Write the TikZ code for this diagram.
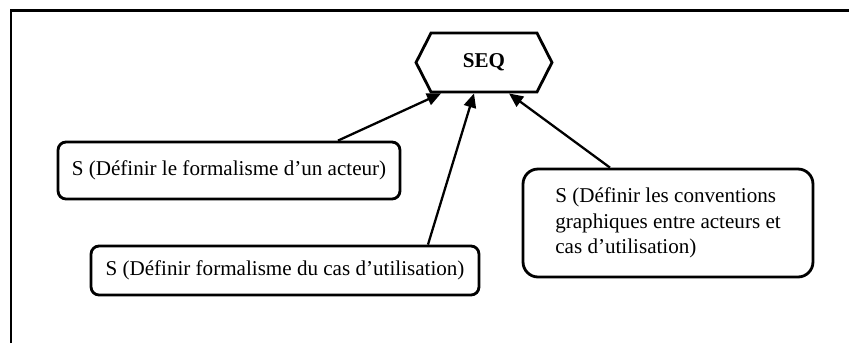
\documentclass[tikz,border=0pt]{standalone}
\usepackage{fontspec}
\setmainfont{Liberation Serif}
\usetikzlibrary{arrows.meta,shapes.symbols}
\begin{document}
\begin{tikzpicture}[x=0.02cm, y=-0.02cm, >={Triangle[length=8pt,width=7pt]},
  tache/.style={draw, line width=1.6pt, rounded corners=0.16cm, inner sep=0pt,
    font=\fontsize{12}{14.5}\selectfont},
  fleche/.style={->, line width=1.3pt}]
  \useasboundingbox (0,0) rectangle (849,343);
  \draw[line width=1.7pt] (11,343) -- (11,10) -- (849,10);
  \node[draw, line width=1.6pt, signal, signal to=east and west,
    signal pointer angle=126, minimum width=2.72cm, minimum height=1.18cm,
    inner sep=0pt, font=\fontsize{12}{14.5}\selectfont\bfseries] (seq) at (484,62.5) {SEQ};
  \node[tache, minimum width=6.84cm, minimum height=1.14cm] (acteur) at (229,170.5)
    {S (Définir le formalisme d’un acteur)};
  \node[tache, minimum width=7.76cm, minimum height=0.98cm] (formalisme) at (285,270.5)
    {S (Définir formalisme du cas d’utilisation)};
  \node[tache, rounded corners=0.3cm, align=left, minimum width=5.8cm, minimum height=2.16cm]
    (conventions) at (668,223)
    {S (Définir les conventions\\graphiques entre acteurs et\\cas d’utilisation)};
  % vers SEQ
  \draw[fleche] ([xshift=2.18cm]acteur.north) -- ([xshift=-0.86cm]seq.south);
  \draw[fleche] ([xshift=2.86cm]formalisme.north) -- ([xshift=-0.2cm]seq.south);
  \draw[fleche] ([xshift=-1.16cm]conventions.north) -- ([xshift=0.5cm]seq.south);
\end{tikzpicture}
\end{document}
